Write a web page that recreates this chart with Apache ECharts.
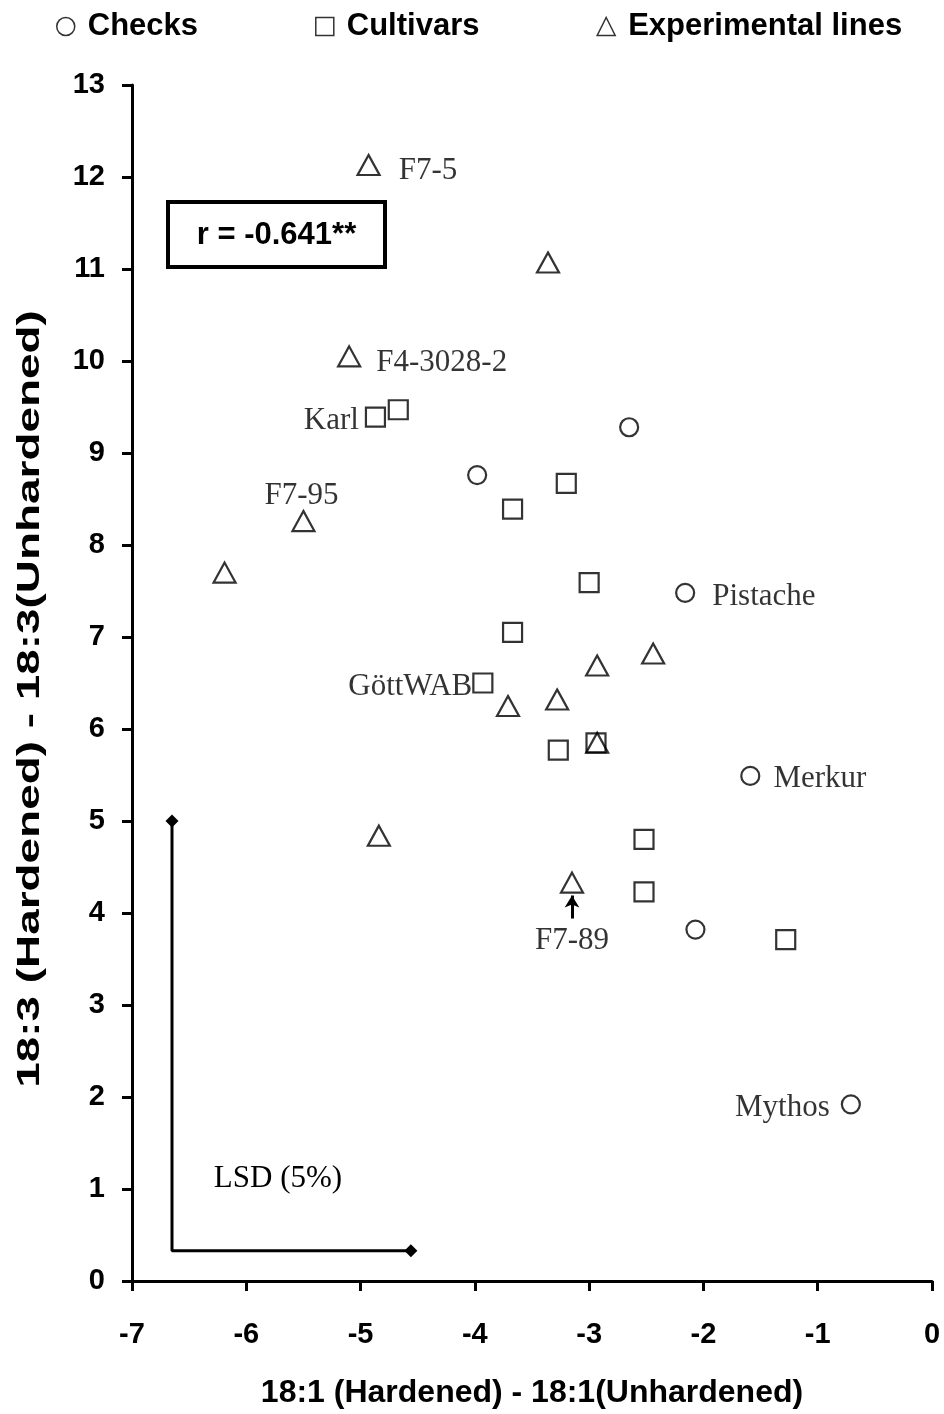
<!DOCTYPE html>
<html>
<head>
<meta charset="utf-8">
<script src="https://cdn.jsdelivr.net/npm/echarts@6/dist/echarts.min.js"></script>
<style>
  html, body { margin: 0; padding: 0; background: #fff; }
  #chart { width: 944px; height: 1414px; }
</style>
</head>
<body>
<div id="chart"></div>
<script>
// Change in 18:1 (x) and 18:3 (y) fatty acid content after hardening
const checksX = [-2.65, -3.98, -2.16, -1.59, -2.07, -0.71];
const checksY = [9.28, 8.76, 7.48, 5.49, 3.82, 1.92];
const checksNames = ['', '', 'Pistache', 'Merkur', '', 'Mythos'];

const cultivarsX = [-4.87, -4.67, -3.20, -3.67, -3.00, -3.67, -3.93, -3.27, -2.94, -2.52, -2.52, -1.28];
const cultivarsY = [9.39, 9.47, 8.67, 8.39, 7.59, 7.05, 6.50, 5.77, 5.85, 4.80, 4.23, 3.71];
const cultivarsNames = ['Karl', '', '', '', '', '', 'GöttWAB', '', '', '', '', ''];

const linesX = [-4.93, -3.36, -5.10, -5.50, -6.19, -2.93, -2.44, -3.28, -3.71, -2.93, -4.84, -3.15];
const linesY = [12.13, 11.07, 10.05, 8.26, 7.70, 6.69, 6.82, 6.32, 6.25, 5.85, 4.84, 4.33];
const linesNames = ['F7-5', '', 'F4-3028-2', 'F7-95', '', '', '', '', '', '', '', 'F7-89'];

// LSD (5%) bracket: vertical leg = LSD for y, horizontal leg = LSD for x
const lsdX = [-6.65, -6.65, -4.56];
const lsdY = [5.00, 0.33, 0.33];

// pointer under F7-89
const arrowX = -3.15;
const arrowY = [3.94, 4.19];

const xTicks = [-7, -6, -5, -4, -3, -2, -1, 0];
const yTicks = [0, 1, 2, 3, 4, 5, 6, 7, 8, 9, 10, 11, 12, 13];

const corrText = 'r = -0.641**';
const legendNames = ['Checks', 'Cultivars', 'Experimental lines'];

const SANS = 'Liberation Sans, Arial, sans-serif';
const SERIF = 'Liberation Serif, Times New Roman, serif';

// where each point name sits relative to its marker
const labelPlace = {
  'Pistache':  { position: 'right', distance: 17, offset: [0, 4] },
  'Merkur':    { position: 'right', distance: 13, offset: [0, 3] },
  'Mythos':    { position: 'left', distance: 11, offset: [0, 3] },
  'Karl':      { position: 'left', distance: 6, offset: [0, 4] },
  'GöttWAB':   { position: 'left', distance: 0, offset: [0, 4] },
  'F7-5':      { position: 'right', distance: 18, offset: [0, 6] },
  'F4-3028-2': { position: 'right', distance: 15, offset: [0, 6] },
  'F7-95':     { position: 'top', distance: 3, offset: [-2, 4] },
  'F7-89':     { position: 'bottom', distance: 28, offset: [0, 4] }
};

function buildPoints(xs, ys, names) {
  return xs.map((x, i) => {
    const item = { value: [x, ys[i]], name: names[i] };
    if (names[i]) {
      const p = labelPlace[names[i]];
      item.label = Object.assign({
        show: true,
        formatter: '{b}',
        color: '#000',
        fontFamily: SERIF,
        fontSize: 31
      }, p);
    }
    return item;
  });
}

const hollow = { color: 'rgba(255,255,255,0)', borderColor: '#000', borderWidth: 2.2 };

const chart = echarts.init(document.getElementById('chart'), null, { renderer: 'canvas' });

chart.setOption({
  backgroundColor: '#fff',
  animation: false,
  textStyle: { fontFamily: SANS },
  grid: { left: 132, right: 12, top: 85, bottom: 128, containLabel: false },
  legend: {
    data: legendNames,
    left: 51,
    top: 6,
    itemWidth: 18,
    itemHeight: 18,
    itemGap: 117,
    itemStyle: { color: 'rgba(0,0,0,0)', borderColor: '#000', borderWidth: 1.5 },
    textStyle: { fontFamily: SANS, fontWeight: 'bold', fontSize: 31, color: '#000', padding: [0, 0, 0, 8] }
  },
  xAxis: {
    type: 'value',
    min: xTicks[0],
    max: xTicks[xTicks.length - 1],
    interval: 1,
    name: '18:1 (Hardened) - 18:1(Unhardened)',
    nameLocation: 'middle',
    nameGap: 96,
    nameTextStyle: { fontFamily: SANS, fontWeight: 'bold', fontSize: 32, color: '#000' },
    axisLine: { onZero: false, lineStyle: { color: '#000', width: 3 } },
    axisTick: { inside: false, length: 10, lineStyle: { color: '#000', width: 3 } },
    axisLabel: { margin: 39, fontFamily: SANS, fontWeight: 'bold', fontSize: 29, color: '#000' },
    splitLine: { show: false }
  },
  yAxis: {
    type: 'value',
    min: yTicks[0],
    max: yTicks[yTicks.length - 1],
    interval: 1,
    axisLine: { onZero: false, lineStyle: { color: '#000', width: 3 } },
    axisTick: { inside: false, length: 10, lineStyle: { color: '#000', width: 3 } },
    axisLabel: { margin: 27, fontFamily: SANS, fontWeight: 'bold', fontSize: 29, color: '#000' },
    splitLine: { show: false }
  },
  series: [
    {
      name: 'LSD',
      type: 'line',
      data: lsdX.map((x, i) => {
        const item = { value: [x, lsdY[i]] };
        if (i === 1) item.symbol = 'none';
        if (i === lsdX.length - 1) {
          item.label = {
            show: true, position: 'inside', align: 'left', verticalAlign: 'middle',
            offset: [-197, -72],
            formatter: 'LSD (5%)', color: '#000', fontFamily: SERIF, fontSize: 31
          };
        }
        return item;
      }),
      symbol: 'diamond',
      symbolSize: 13,
      showAllSymbol: true,
      lineStyle: { color: '#000', width: 3 },
      itemStyle: { color: '#000' },
      silent: true,
      z: 2
    },
    {
      name: 'Checks',
      type: 'scatter',
      symbol: 'circle',
      symbolSize: 18,
      itemStyle: hollow,
      data: buildPoints(checksX, checksY, checksNames),
      z: 3
    },
    {
      name: 'Cultivars',
      type: 'scatter',
      symbol: 'rect',
      symbolSize: 19,
      itemStyle: hollow,
      data: buildPoints(cultivarsX, cultivarsY, cultivarsNames),
      z: 3
    },
    {
      name: 'Experimental lines',
      type: 'scatter',
      symbol: 'triangle',
      symbolSize: [22, 20],
      itemStyle: hollow,
      data: buildPoints(linesX, linesY, linesNames),
      z: 4,
      markLine: {
        silent: true,
        symbol: ['none', 'arrow'],
        symbolSize: [11, 12],
        label: { show: false },
        lineStyle: { color: '#000', width: 3, type: 'solid' },
        data: [[{ coord: [arrowX, arrowY[0]] }, { coord: [arrowX, arrowY[1]] }]]
      }
    }
  ],
  graphic: [
    {
      type: 'group',
      left: 166,
      top: 200,
      children: [
        { type: 'rect', shape: { x: 0, y: 0, width: 217, height: 65 },
          style: { fill: '#fff', stroke: '#000', lineWidth: 4 } },
        { type: 'text', x: 108.5, y: 33,
          style: { text: corrText, fill: '#000', font: 'bold 31px ' + SANS, align: 'center', verticalAlign: 'middle' } }
      ]
    },
    {
      type: 'text',
      x: 30,
      y: 699,
      rotation: Math.PI / 2,
      scaleX: 1.48,
      style: {
        text: '18:3 (Hardened) - 18:3(Unhardened)',
        fill: '#000',
        font: 'bold 31px ' + SANS,
        align: 'center',
        verticalAlign: 'middle'
      }
    }
  ]
});
</script>
</body>
</html>
